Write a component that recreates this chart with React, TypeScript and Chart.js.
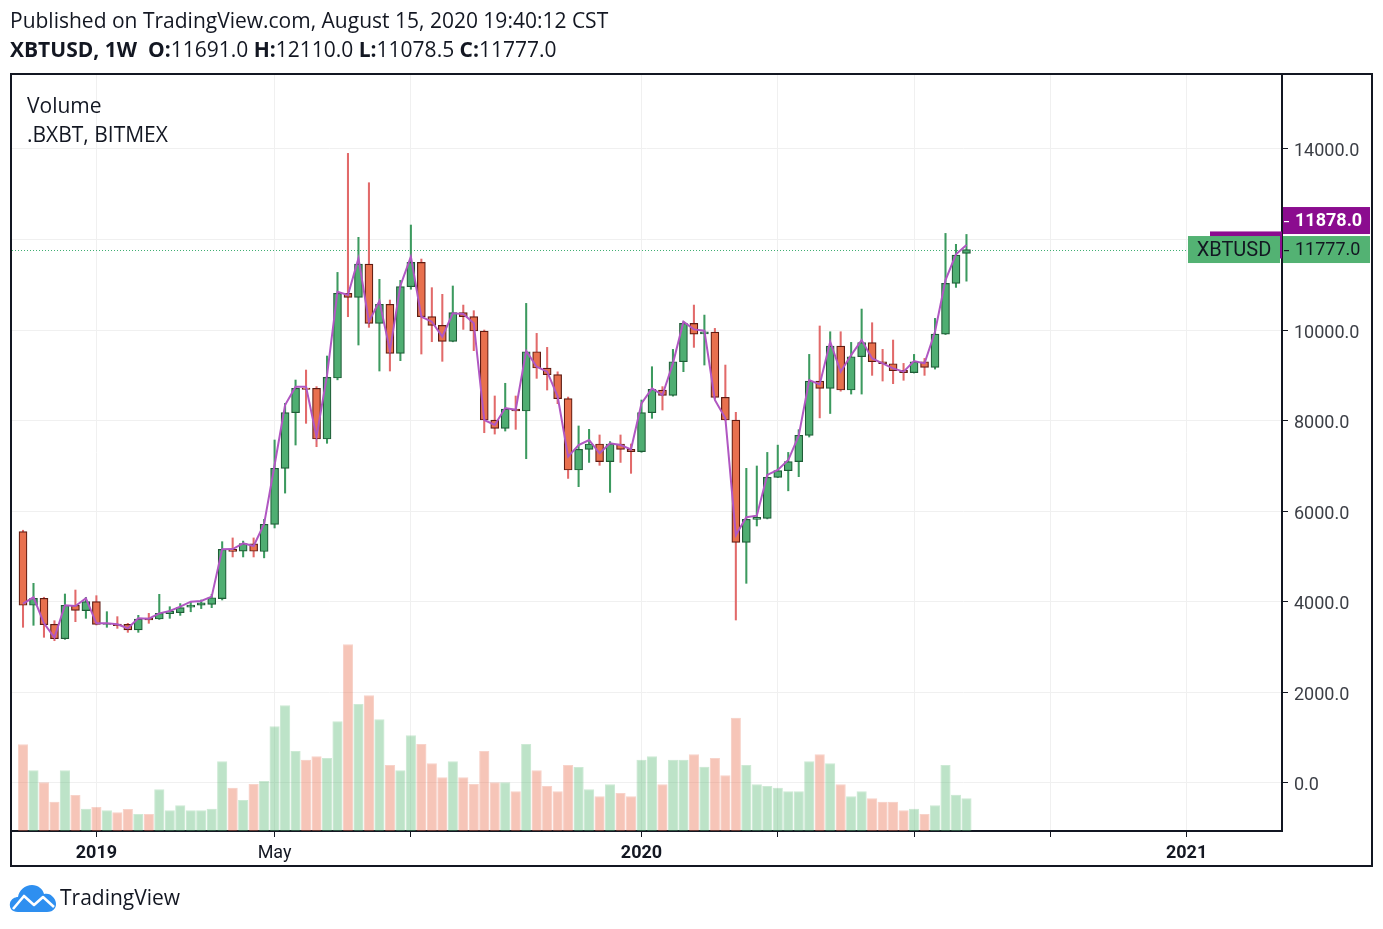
import React, { useEffect, useRef } from 'react';
import { Chart, registerables } from 'chart.js';

Chart.register(...registerables);

// Weekly XBTUSD candles, week of 2018-11-19 .. week of 2020-08-10 (index = week number)
const OPEN = [
  5548, 3923, 4077, 3503, 3186, 3923, 3805, 4003, 3500, 3510,
  3503, 3378, 3640, 3620, 3740, 3760, 3880, 3925, 3943, 4070,
  5165, 5120, 5280, 5110, 5710, 6947, 8175, 8720, 8713, 7594,
  8940, 10810, 10722, 11457, 10147, 10567, 9486, 10957, 11493, 10294,
  10103, 9750, 10383, 10294, 9978, 8013, 7830, 8256, 8212, 9521,
  9161, 9014, 8484, 6909, 7366, 7484, 7094, 7484, 7366, 7315,
  8175, 8675, 8557, 9300, 10146, 9915, 9955, 8514, 8013, 5313,
  5821, 5843, 6748, 6895, 7094, 7675, 8874, 8712, 9646, 8675,
  9410, 9720, 9300, 9256, 9110, 9060, 9300, 9175, 9911, 11030,
  11691,
];
const HIGH = [
  5580, 4408, 4100, 3583, 4172, 4260, 4099, 4135, 3782, 3672,
  3525, 3701, 3745, 4165, 3892, 3960, 3990, 4040, 4165, 5327,
  5410, 5340, 5410, 5820, 7572, 8382, 8896, 9117, 8750, 9426,
  11272, 13900, 12046, 13252, 11119, 10662, 11096, 12318, 11567, 10935,
  10788, 10972, 10551, 10427, 10000, 8544, 8824, 8543, 10588, 9926,
  9617, 9077, 8520, 7882, 7808, 7683, 7536, 7683, 7484, 8455,
  9190, 8750, 9573, 10183, 10551, 10330, 10036, 9227, 8183, 6947,
  6998, 7298, 7459, 7298, 7800, 9462, 10089, 9962, 9962, 9727,
  10463, 10161, 9573, 9779, 9263, 9462, 9373, 10257, 12133, 11892,
  12110,
];
const LOW = [
  3437, 3481, 3216, 3141, 3170, 3561, 3635, 3488, 3437, 3414,
  3326, 3326, 3525, 3610, 3635, 3700, 3780, 3850, 3870, 4040,
  4990, 4990, 4990, 4970, 5630, 6400, 7461, 7940, 7424, 7499,
  8900, 10294, 9669, 10059, 9095, 9095, 9323, 10900, 9470, 9742,
  9309, 9740, 10014, 9544, 7733, 7703, 7770, 7807, 7159, 8933,
  8675, 8374, 6724, 6541, 7077, 7013, 6415, 7077, 6836, 7300,
  8050, 8234, 8540, 9080, 9617, 9227, 8480, 8000, 3598, 4408,
  5674, 5830, 6740, 6450, 6762, 7638, 8060, 8157, 8650, 8586,
  8586, 8999, 8874, 8815, 8890, 9050, 8999, 9138, 9900, 10941,
  11078.5,
];
const CLOSE = [
  3923, 4077, 3495, 3186, 3923, 3812, 4003, 3503, 3525, 3473,
  3378, 3620, 3600, 3745, 3790, 3870, 3930, 3980, 4090, 5158,
  5110, 5285, 5115, 5710, 6947, 8175, 8713, 8690, 7594, 8955,
  10810, 10722, 11457, 10147, 10567, 9486, 10957, 11493, 10294, 10103,
  9750, 10383, 10294, 9978, 8013, 7830, 8256, 8212, 9521, 9161,
  9014, 8484, 6909, 7366, 7484, 7094, 7484, 7366, 7315, 8175,
  8690, 8557, 9300, 10146, 9911, 9960, 8514, 8013, 5313, 5821,
  5865, 6748, 6895, 7094, 7675, 8874, 8712, 9646, 8675, 9410,
  9720, 9300, 9256, 9102, 9060, 9300, 9175, 9911, 11030, 11656,
  11777,
];
const VOLUME = [
  86.7, 60.7, 48.7, 29.3, 60.7, 36, 22.3, 24, 20.7, 18.7,
  22, 17, 17, 41.7, 20.7, 25.7, 20.7, 20.7, 22.3, 69.7,
  43.3, 31, 47, 50, 104.7, 125.7, 80, 71.3, 74.7, 73,
  109.7, 186.7, 127, 135.7, 111.7, 66, 60.7, 95.7, 87, 67.7,
  53.7, 69.7, 53.7, 47, 80, 48.7, 48.7, 39.7, 87, 60.7,
  45, 39.7, 66, 64, 41.7, 34.7, 46.7, 38, 34.7, 71.3,
  74.7, 46.7, 71.3, 71.3, 76.7, 64.3, 73, 55.7, 113.3, 66,
  46.7, 45, 43.3, 39.7, 39.7, 69.7, 76.7, 67.7, 46.7, 34.7,
  39.7, 32.7, 29.3, 29.3, 20.7, 22.3, 17, 25.7, 66, 36.3,
  32.7,
];
// .BXBT comparison (weekly close of the index)
const BXBT = [
  3960, 4100, 3525, 3208, 3923, 3908, 4077, 3525, 3525, 3503,
  3415, 3635, 3628, 3745, 3797, 3893, 4003, 4018, 4114, 5158,
  5165, 5290, 5232, 5717, 7020, 8345, 8749, 8749, 7645, 9000,
  10846, 10773, 11583, 10184, 10640, 9550, 10978, 11619, 10294, 10184,
  9853, 10368, 10353, 10150, 8013, 7903, 8278, 8240, 9540, 9190,
  9080, 8536, 7204, 7462, 7572, 7278, 7499, 7462, 7366, 8380,
  8712, 8565, 9264, 10183, 10014, 9985, 8455, 8050, 5474, 5866,
  5902, 6800, 6910, 7130, 7668, 8896, 8800, 9741, 9079, 9447,
  9778, 9373, 9263, 9153, 9080, 9315, 9263, 9962, 11103, 11670,
  11878,
];

const X_TICKS = [7, 24, 37, 59, 72, 85, 98, 111];
const X_TICK_LABELS = ['2019', 'May', '', '2020', '', '', '', '2021'];
const YEAR_LABELS = ['2019', '2020', '2021'];
const Y_TICKS = [0, 2000, 4000, 6000, 8000, 10000, 12000, 14000];
const LAST_CLOSE = 11777.0;
const LAST_BXBT = 11878.0;

const GREEN_BODY = '#4fae72';
const GREEN_EDGE = '#1f5c37';
const GREEN_WICK = '#3c9a5f';
const RED_BODY = '#e8704e';
const RED_EDGE = '#5e1b12';
const RED_WICK = '#e26a6a';
const PURPLE = '#8b0c8f';
const LABEL_GREEN = '#53b273';
const TEXT = '#131722';

export default function App() {
  const ref = useRef<HTMLCanvasElement>(null);

  useEffect(() => {
    const idx = CLOSE.map((_, i) => i);
    const up = CLOSE.map((c, i) => c >= OPEN[i]);
    const volMax = Math.max(...VOLUME) * 4.05;

    const overlay = {
      id: 'overlay',
      beforeDatasetsDraw(chart: any) {
        const { ctx, chartArea } = chart;
        const y = chart.scales.y;
        const yc = Math.round(y.getPixelForValue(LAST_CLOSE)) + 0.5;
        ctx.save();
        ctx.strokeStyle = '#3fae72';
        ctx.lineWidth = 1;
        ctx.setLineDash([1, 2]);
        ctx.beginPath();
        ctx.moveTo(chartArea.left, yc);
        ctx.lineTo(chartArea.right - 94, yc);
        ctx.stroke();
        ctx.restore();
      },
      afterDraw(chart: any) {
        const { ctx, chartArea } = chart;
        const y = chart.scales.y;
        const R = chartArea.right;
        const h = 27;
        const yc = y.getPixelForValue(LAST_CLOSE);
        const yb = y.getPixelForValue(LAST_BXBT);
        ctx.save();
        // outer frame
        ctx.strokeStyle = TEXT;
        ctx.lineWidth = 2;
        ctx.strokeRect(chartArea.left - 1, chartArea.top - 1, R - chartArea.left + 91, chartArea.bottom - chartArea.top + 36);
        // hidden .BXBT name label (mostly covered)
        ctx.fillStyle = PURPLE;
        ctx.fillRect(R - 72, yb - h / 2, 72, h);
        // XBTUSD name label
        ctx.fillStyle = LABEL_GREEN;
        ctx.fillRect(R - 94, yc - h / 2, 92, h);
        ctx.fillStyle = TEXT;
        ctx.font = '20px Roboto';
        ctx.textBaseline = 'middle';
        ctx.textAlign = 'center';
        ctx.fillText('XBTUSD', R - 48, yc + 1);
        // price labels
        ctx.fillStyle = LABEL_GREEN;
        ctx.fillRect(R + 1, yc - h / 2, 87, h);
        const pTop = yc - h / 2 - 2 - h;
        ctx.fillStyle = PURPLE;
        ctx.fillRect(R + 1, pTop, 87, h);
        ctx.textAlign = 'left';
        ctx.font = '18px Roboto';
        ctx.fillStyle = TEXT;
        ctx.fillText(LAST_CLOSE.toFixed(1), R + 13, yc + 1);
        ctx.fillRect(R + 2, Math.round(yc), 5, 1.2);
        ctx.fillStyle = '#ffffff';
        ctx.font = 'bold 18px Roboto';
        ctx.fillText(LAST_BXBT.toFixed(1), R + 13, pTop + h / 2 + 1);
        ctx.fillRect(R + 2, Math.round(pTop + h / 2), 5, 1.2);
        ctx.restore();
      },
    };

    const chart = new Chart(ref.current as HTMLCanvasElement, {
      type: 'bar',
      data: {
        datasets: [
          {
            type: 'bar',
            label: 'Volume',
            yAxisID: 'yv',
            data: idx.map((i) => ({ x: i, y: VOLUME[i] })),
            backgroundColor: up.map((u) => (u ? 'rgba(90,185,117,0.4)' : 'rgba(233,110,78,0.4)')),
            borderColor: up.map((u) => (u ? 'rgba(90,185,117,0.3)' : 'rgba(233,110,78,0.3)')),
            borderWidth: 1,
            borderSkipped: 'start',
            barPercentage: 0.97,
            categoryPercentage: 1,
            grouped: false,
            order: 4,
          } as any,
          {
            type: 'bar',
            label: 'wick',
            yAxisID: 'y',
            data: idx.map((i) => ({ x: i, y: [LOW[i], HIGH[i]] })),
            backgroundColor: up.map((u) => (u ? GREEN_WICK : RED_WICK)),
            barThickness: 1.4,
            grouped: false,
            order: 3,
          } as any,
          {
            type: 'bar',
            label: 'XBTUSD',
            yAxisID: 'y',
            data: idx.map((i) => ({ x: i, y: [OPEN[i], CLOSE[i]] })),
            backgroundColor: up.map((u) => (u ? GREEN_BODY : RED_BODY)),
            borderColor: up.map((u) => (u ? GREEN_EDGE : RED_EDGE)),
            borderWidth: 1.2,
            borderSkipped: false,
            barThickness: 8,
            grouped: false,
            order: 2,
          } as any,
          {
            type: 'line',
            label: '.BXBT',
            yAxisID: 'y',
            data: idx.map((i) => ({ x: i, y: BXBT[i] })),
            borderColor: '#b057c2',
            borderWidth: 2,
            pointRadius: 0,
            tension: 0,
            order: 1,
          } as any,
        ],
      },
      options: {
        responsive: false,
        animation: false,
        layout: { padding: { left: 12, top: 75, right: 11, bottom: 63 } },
        plugins: { legend: { display: false }, tooltip: { enabled: false } },
        scales: {
          x: {
            type: 'linear',
            min: -1.05,
            max: 120.1,
            offset: false,
            afterBuildTicks: (s: any) => {
              s.ticks = X_TICKS.map((v) => ({ value: v }));
            },
            afterFit: (s: any) => {
              s.height = 35;
            },
            ticks: {
              autoSkip: false,
              maxRotation: 0,
              padding: 6,
              color: TEXT,
              font: (c: any) => ({
                family: 'Roboto',
                size: 18,
                weight: YEAR_LABELS.includes(X_TICK_LABELS[c.index]) ? 'bold' : 'normal',
              }),
              callback: (_v: any, i: number) => X_TICK_LABELS[i],
            },
            grid: { offset: false, color: '#f0f0f0', lineWidth: 1, tickLength: 6, tickColor: TEXT, drawTicks: true },
            border: { display: true, color: TEXT, width: 2 },
          } as any,
          y: {
            type: 'linear',
            position: 'right',
            min: -1060,
            max: 15630,
            afterBuildTicks: (s: any) => {
              s.ticks = Y_TICKS.map((v) => ({ value: v }));
            },
            afterFit: (s: any) => {
              s.width = 90;
            },
            ticks: {
              color: '#3b3e45',
              font: { family: 'Roboto', size: 18 },
              padding: 6,
              labelOffset: 3,
              callback: (v: any) => (v === 12000 ? '' : Number(v).toFixed(1)),
            },
            grid: { color: '#f0f0f0', lineWidth: 1, tickLength: 6, tickColor: TEXT },
            border: { display: true, color: TEXT, width: 2 },
          } as any,
          yv: { type: 'linear', display: false, min: 0, max: volMax } as any,
        },
      },
      plugins: [overlay],
    });
    return () => chart.destroy();
  }, []);

  const base: React.CSSProperties = {
    position: 'absolute',
    fontFamily: '"Open Sans", sans-serif',
    color: TEXT,
    whiteSpace: 'nowrap',
    lineHeight: 1,
  };

  return (
    <div style={{ position: 'absolute', left: 0, top: 0, width: 1383, height: 929, background: '#fff', overflow: 'hidden' }}>
      <canvas ref={ref} width={1383} height={929} style={{ position: 'absolute', left: 0, top: 0, width: 1383, height: 929 }} />
      <div style={{ ...base, left: 10, top: 10, fontSize: 21 }}>Published on TradingView.com, August 15, 2020 19:40:12 CST</div>
      <div style={{ ...base, left: 10, top: 39, fontSize: 21 }}>
        <b>XBTUSD, 1W</b>&nbsp; <b>O:</b>11691.0 <b>H:</b>12110.0 <b>L:</b>11078.5 <b>C:</b>11777.0
      </div>
      <div style={{ ...base, left: 27, top: 95, fontSize: 21 }}>Volume</div>
      <div style={{ ...base, left: 27, top: 124, fontSize: 21 }}>.BXBT, BITMEX</div>
      <svg style={{ position: 'absolute', left: 9, top: 883 }} width="48" height="30" viewBox="0 0 48 30">
        <path
          d="M9 29 C3 29 0 25 1 20 C2 16 6 14 9 14 C10 7 16 2 23 2 C29 2 34 6 35 11 C38 10 42 11 44 14 C47 17 48 22 46 25 C44 28 41 29 38 29 Z"
          fill="#2e8ff0"
        />
        <polyline points="4,26 15,13 25,22 34,14 45,24" stroke="#ffffff" strokeWidth="2.6" fill="none" strokeLinejoin="round" />
      </svg>
      <div style={{ ...base, left: 60, top: 887, fontSize: 21 }}>TradingView</div>
    </div>
  );
}
